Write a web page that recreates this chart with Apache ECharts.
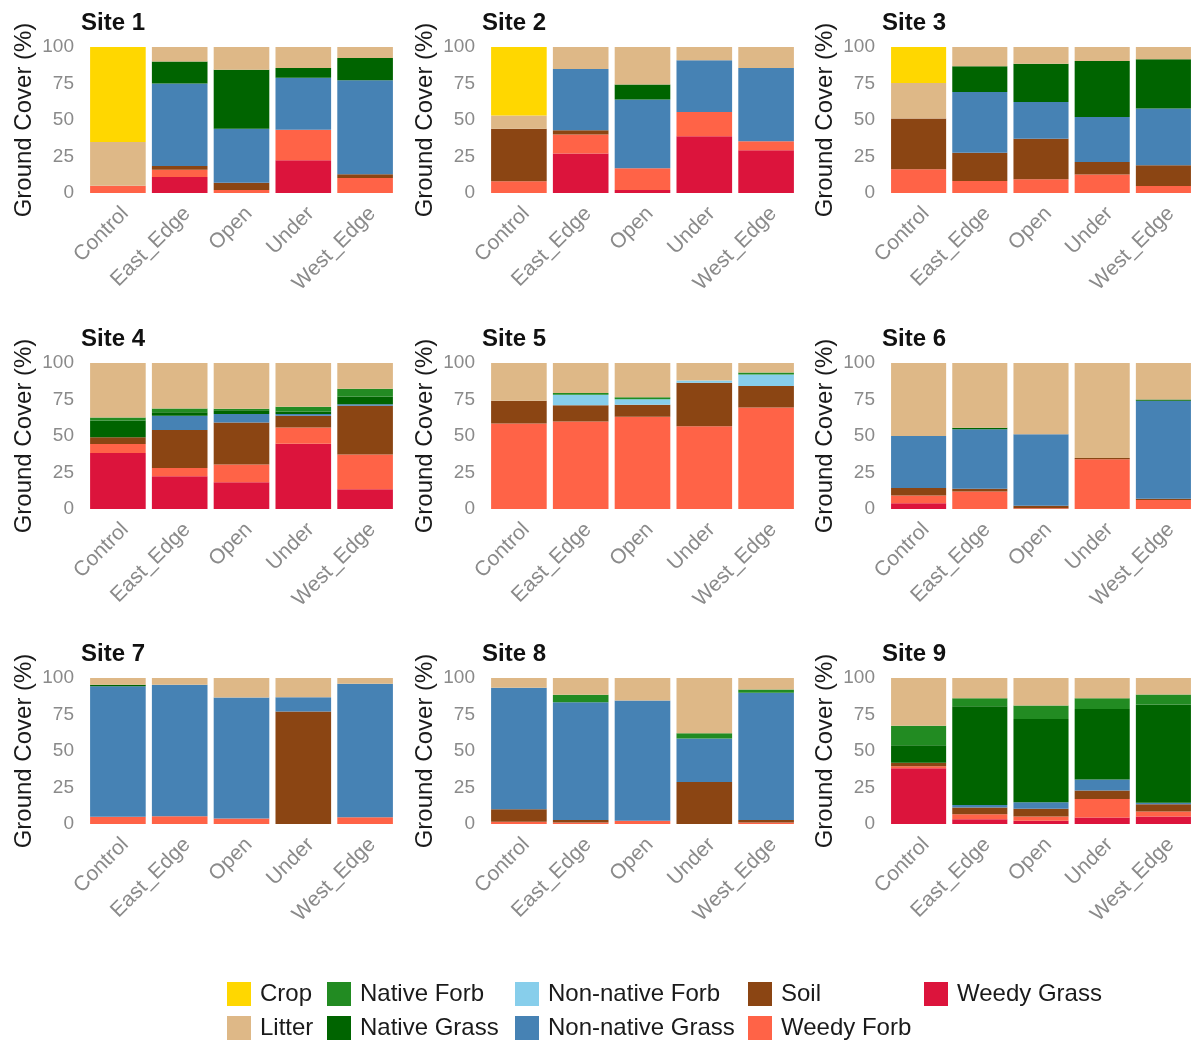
<!DOCTYPE html>
<html>
<head>
<meta charset="utf-8">
<title>Ground cover by site and treatment</title>
<script src="https://cdn.jsdelivr.net/npm/echarts@6/dist/echarts.min.js"></script>
<style>
  html, body { margin: 0; padding: 0; background: #ffffff; }
  #chart { width: 1194px; height: 1042px; }
</style>
</head>
<body>
<div id="chart"></div>
<script>
// Treatments along each x axis
const treatments = ['Control', 'East_Edge', 'Open', 'Under', 'West_Edge'];

// Cover classes (legend order, alphabetical)
const coverTypes = ['Crop', 'Litter', 'Native Forb', 'Native Grass', 'Non-native Forb',
                    'Non-native Grass', 'Soil', 'Weedy Forb', 'Weedy Grass'];

// Stacking order from the bottom of each bar upward
const stackOrder = ['Weedy Grass', 'Weedy Forb', 'Soil', 'Non-native Grass', 'Non-native Forb',
                    'Native Grass', 'Native Forb', 'Litter', 'Crop'];

const coverColors = ['#FFD700', '#DEB887', '#228B22', '#006400', '#87CEEB',
                     '#4682B4', '#8B4513', '#FF6347', '#DC143C'];

const siteNames = ['Site 1', 'Site 2', 'Site 3', 'Site 4', 'Site 5', 'Site 6', 'Site 7', 'Site 8', 'Site 9'];

const yTicks = [0, 25, 50, 75, 100];

// Percent cover; rows follow coverTypes, columns follow treatments
const site1 = [
  [65, 0, 0, 0, 0],            // Crop
  [30, 10, 15.5, 14.4, 7.5],   // Litter
  [0, 0, 0, 0, 0],             // Native Forb
  [0, 15, 40.5, 6.6, 15.3],    // Native Grass
  [0, 0, 0, 0, 0],             // Non-native Forb
  [0, 56.5, 37, 35.6, 64.4],   // Non-native Grass
  [0, 2.5, 5, 0, 2.5],         // Soil
  [5, 5, 2, 21, 10.3],         // Weedy Forb
  [0, 11, 0, 22.4, 0]          // Weedy Grass
];
const site2 = [
  [47, 0, 0, 0, 0],
  [9, 15, 25.6, 9, 14.4],
  [0, 0, 0, 0, 0],
  [0, 0, 10.4, 0, 0],
  [0, 0, 0, 0, 0],
  [0, 42, 47, 35.5, 50.2],
  [36, 3, 0, 0, 0],
  [8, 13, 15, 16.7, 6.2],
  [0, 27, 2, 38.8, 29.2]
];
const site3 = [
  [24.7, 0, 0, 0, 0],
  [24.3, 13.2, 11.4, 9.6, 8.4],
  [0, 0, 0, 0, 0],
  [0, 17.6, 26.3, 38.4, 33.8],
  [0, 0, 0, 0, 0],
  [0, 41.6, 25.1, 30.8, 38.8],
  [34.8, 19.4, 27.8, 8.6, 14.2],
  [16.2, 8.2, 9.4, 12.6, 4.8],
  [0, 0, 0, 0, 0]
];
const site4 = [
  [0, 0, 0, 0, 0],
  [37.3, 31.2, 31.3, 30, 17.7],
  [2, 2.5, 1, 3.2, 5.3],
  [11.5, 2.5, 2.7, 1.8, 5.3],
  [0, 0, 0, 0, 0],
  [0, 9.7, 5.8, 1.2, 1],
  [4.6, 26, 28.8, 8, 33.4],
  [6.2, 5.7, 12, 11.1, 23.7],
  [38.4, 22.4, 18.4, 44.7, 13.6]
];
const site5 = [
  [0, 0, 0, 0, 0],
  [25.8, 20.5, 23.5, 12, 6.5],
  [0, 1.2, 1.4, 0, 1.3],
  [0, 0, 0, 0, 0],
  [0, 7.3, 3.7, 1.6, 7.9],
  [0, 0, 0, 0, 0],
  [15.7, 11.1, 8.3, 29.7, 14.7],
  [58.5, 59.9, 63.1, 56.7, 69.6],
  [0, 0, 0, 0, 0]
];
const site6 = [
  [0, 0, 0, 0, 0],
  [50, 44.4, 48.8, 65, 25],
  [0, 0, 0, 0, 0],
  [0, 1, 0, 0, 0.8],
  [0, 0, 0, 0, 0],
  [35.7, 40.8, 48.9, 0, 67.2],
  [5.1, 1.8, 1.8, 1, 0.8],
  [5.3, 12, 0.5, 34, 6.2],
  [3.9, 0, 0, 0, 0]
];
const site7 = [
  [0, 0, 0, 0, 0],
  [4.7, 4.6, 13.3, 13.1, 3.9],
  [0, 0, 0, 0, 0],
  [1, 0, 0, 0, 0],
  [0, 0, 0, 0, 0],
  [89.3, 90.1, 83, 9.9, 91.5],
  [0, 0, 0, 77, 0],
  [5, 5.3, 3.7, 0, 4.6],
  [0, 0, 0, 0, 0]
];
const site8 = [
  [0, 0, 0, 0, 0],
  [6.7, 11.5, 15.4, 37.8, 7.8],
  [0, 5.1, 0, 3.7, 2.3],
  [0, 0, 0, 0, 0],
  [0, 0, 0, 0, 0],
  [83.2, 80.6, 82.3, 29.7, 87.1],
  [8.5, 1.8, 0, 28.8, 1.8],
  [1.6, 1, 2.3, 0, 1],
  [0, 0, 0, 0, 0]
];
const site9 = [
  [0, 0, 0, 0, 0],
  [32.7, 13.8, 18.9, 13.8, 11.3],
  [13.4, 5.6, 9.2, 7.4, 6.9],
  [12, 67.6, 57, 48.4, 67.2],
  [0, 0, 0, 0, 0],
  [0, 1.7, 4.5, 7.4, 1],
  [2.3, 4.6, 5.3, 5.9, 5.1],
  [1.4, 3.5, 2.8, 12.7, 3.4],
  [38.2, 3.2, 2.3, 4.4, 5.1]
];

const siteData = [site1, site2, site3, site4, site5, site6, site7, site8, site9];

// Panel geometry (plot areas in px)
const colLeft = [87, 488, 888];
const colWidth = 309;
const rowTop = [47, 363, 678];
const rowHeight = 146;
const FONT = 'Liberation Sans, Arial, sans-serif';

const grids = [], xAxes = [], yAxes = [], titles = [], series = [];

siteData.forEach((rows, i) => {
  const c = i % 3, r = Math.floor(i / 3);
  grids.push({ left: colLeft[c], top: rowTop[r], width: colWidth, height: rowHeight });
  titles.push({
    text: siteNames[i],
    left: colLeft[c] - 6,
    top: rowTop[r] - 36,
    padding: 0,
    textStyle: { fontFamily: FONT, fontSize: 24, fontWeight: 'bold', color: '#111111' }
  });
  xAxes.push({
    type: 'category', gridIndex: i, data: treatments,
    axisLine: { show: false }, axisTick: { show: false },
    axisLabel: {
      rotate: 45, margin: 10, align: 'right', verticalAlign: 'top',
      color: '#8a8a8a', fontSize: 21, fontFamily: FONT
    }
  });
  yAxes.push({
    type: 'value', gridIndex: i, min: 0, max: 100, interval: 25,
    name: 'Ground Cover (%)', nameLocation: 'middle', nameGap: 51, nameRotate: 90,
    nameTextStyle: { fontFamily: FONT, fontSize: 24, color: '#1a1a1a' },
    axisLine: { show: false }, axisTick: { show: false }, splitLine: { show: false },
    axisLabel: {
      margin: 13, color: '#8a8a8a', fontSize: 19, fontFamily: FONT,
      formatter: v => (yTicks.indexOf(v) >= 0 ? String(v) : '')
    }
  });
  stackOrder.forEach(name => {
    const k = coverTypes.indexOf(name);
    series.push({
      type: 'bar', name: name, stack: 'site' + i,
      xAxisIndex: i, yAxisIndex: i,
      barWidth: '90%',
      itemStyle: { color: coverColors[k] },
      data: rows[k],
      animation: false
    });
  });
});

// Legend laid out column by column, two entries per column
const legendCols = [[0, 1], [2, 3], [4, 5], [6, 7], [8]];
const legendLeft = [227, 327, 515, 748, 924];
const legends = legendCols.map((idx, j) => ({
  orient: 'vertical', left: legendLeft[j], top: 982, padding: 0,
  itemWidth: 24, itemHeight: 24, itemGap: 10,
  icon: 'rect',
  data: idx.map(k => coverTypes[k]),
  textStyle: { fontFamily: FONT, fontSize: 24, color: '#1a1a1a', padding: [0, 0, 0, 4] }
}));

const chart = echarts.init(document.getElementById('chart'), null, { renderer: 'canvas' });
chart.setOption({
  backgroundColor: '#ffffff',
  animation: false,
  color: coverColors,
  title: titles,
  legend: legends,
  grid: grids,
  xAxis: xAxes,
  yAxis: yAxes,
  series: series
});
</script>
</body>
</html>
